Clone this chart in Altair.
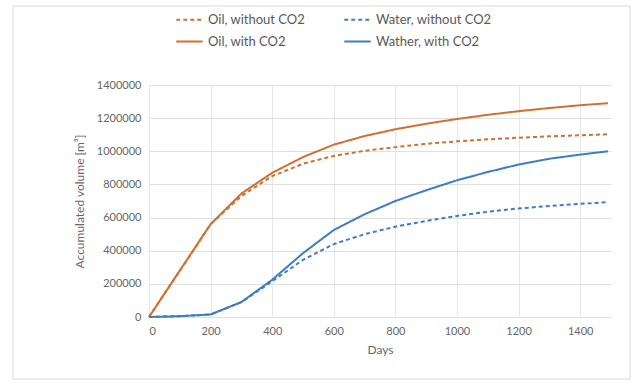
import altair as alt
import pandas as pd

days = [0, 100, 200, 300, 400, 500, 600, 700, 800, 900, 1000, 1100, 1200, 1300, 1400, 1490]
oil_without = [0, 280000, 560000, 730000, 850000, 925000, 972000, 1003000, 1025000, 1045000, 1060000, 1072000, 1082000, 1090000, 1097000, 1103000]
water_without = [0, 5000, 15000, 90000, 215000, 345000, 440000, 500000, 545000, 580000, 610000, 635000, 655000, 670000, 683000, 693000]
oil_with = [0, 280000, 560000, 745000, 870000, 965000, 1040000, 1092000, 1133000, 1166000, 1195000, 1220000, 1242000, 1261000, 1278000, 1290000]
water_with = [0, 5000, 15000, 90000, 225000, 385000, 525000, 620000, 700000, 765000, 825000, 875000, 920000, 955000, 980000, 1000000]

series_names = ["Oil, without CO2", "Water, without CO2", "Oil, with CO2", "Wather, with CO2"]
series_values = [oil_without, water_without, oil_with, water_with]

rows = []
for name, vals in zip(series_names, series_values):
    for d, v in zip(days, vals):
        rows.append({"Days": d, "Volume": v, "Series": name})
df = pd.DataFrame(rows)

orange = "#CF6F30"
blue = "#3D7DC2"
font = "Lato"

legend_kw = dict(title=None, orient="none", legendX=26, legendY=-80, columns=2,
                 columnPadding=34, rowPadding=-4, symbolType="stroke", symbolSize=700,
                 symbolStrokeWidth=2, labelFontSize=13, labelFont=font,
                 labelColor="#595959", direction="horizontal", labelOffset=4)

lines = alt.Chart(df).mark_line(strokeWidth=2).encode(
    x=alt.X("Days:Q", scale=alt.Scale(domain=[0, 1500], nice=False),
            axis=alt.Axis(title="Days", values=[0, 200, 400, 600, 800, 1000, 1200, 1400],
                          format="d", grid=True, gridColor="#e6e6e6", domain=False, ticks=False,
                          labelColor="#666666", labelFontSize=11, labelFont=font, labelPadding=8,
                          titleColor="#666666", titleFontSize=12, titleFont=font, titleFontWeight="normal",
                          titlePadding=8)),
    y=alt.Y("Volume:Q", scale=alt.Scale(domain=[0, 1400000], nice=False),
            axis=alt.Axis(title="Accumulated volume [m³]", values=[0, 200000, 400000, 600000, 800000, 1000000, 1200000, 1400000],
                          format="d", grid=True, gridColor="#e0e0e0", domain=False, ticks=False,
                          labelColor="#666666", labelFontSize=11, labelFont=font, labelPadding=8,
                          titleColor="#666666", titleFontSize=12, titleFont=font, titleFontWeight="normal",
                          titlePadding=10)),
    color=alt.Color("Series:N", scale=alt.Scale(domain=series_names, range=[orange, blue, orange, blue]),
                    legend=alt.Legend(**legend_kw)),
    strokeDash=alt.StrokeDash("Series:N", scale=alt.Scale(domain=series_names, range=[[4, 3], [4, 3], [1, 0], [1, 0]]),
                              legend=alt.Legend(**legend_kw)),
    order=alt.Order("Days:Q"),
)

frame = alt.Chart(pd.DataFrame({"a": [0]})).mark_rect(fill=None, stroke="#d9d9d9", strokeWidth=1).encode(
    x=alt.value(-136), x2=alt.value(481), y=alt.value(-79), y2=alt.value(294)
)

chart = alt.layer(frame, lines).properties(
    width=462, height=232,
    padding={"left": 149, "top": 85, "right": 27, "bottom": 66},
    autosize=alt.AutoSizeParams(type="none"),
    background="white",
).configure_view(stroke=None)

chart.save("out.html", embed_options={"renderer": "svg", "actions": False})
